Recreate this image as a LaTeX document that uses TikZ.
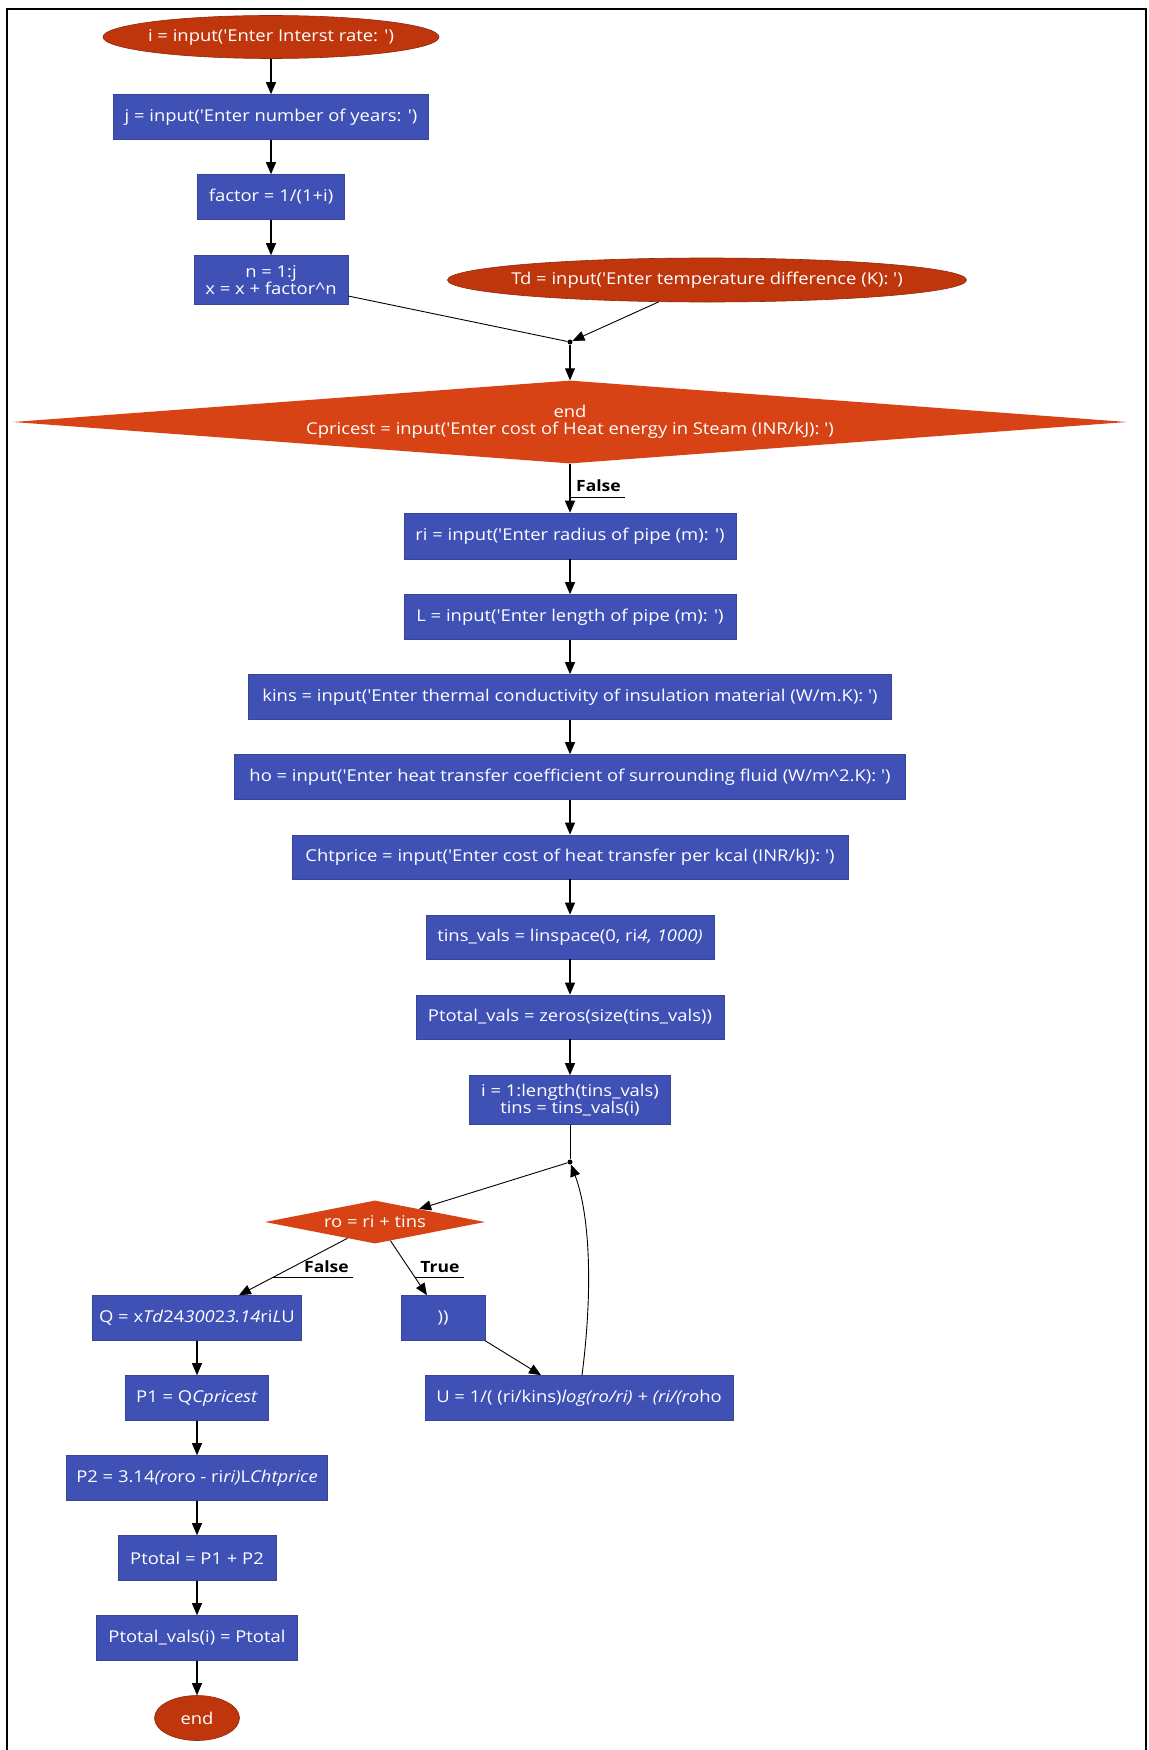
\documentclass[tikz,border=0pt]{standalone}
\usepackage{fontspec}
\setmainfont[FakeStretch=1.13,Ligatures=TeXOff]{Open Sans}
\usetikzlibrary{shapes.geometric,arrows.meta,calc}
\definecolor{boxblue}{HTML}{3F51B5}
\definecolor{ovalred}{HTML}{BF360C}
\definecolor{diared}{HTML}{D84315}
\newcommand{\ctr}[1]{\makebox[0pt]{#1}}
\tikzset{
  base/.style={text=white, font=\fontsize{16.3}{17.5}\selectfont, inner sep=0pt, align=center},
  procbox/.style={base, rectangle, fill=boxblue, draw=boxblue!85!black, line width=0.6pt},
  terminal/.style={base, ellipse, fill=ovalred, draw=ovalred!75!black, line width=0.6pt},
  decision/.style={base, diamond, fill=diared, draw=none},
  flow/.style={-{Triangle[length=12pt,width=10pt]}, line width=1.1pt},
  thinflow/.style={-{Triangle[length=12pt,width=10pt]}, line width=0.9pt},
  plainline/.style={line width=0.9pt},
  junction/.style={circle, fill=black, inner sep=0pt, minimum size=5pt},
  edgelabel/.style={font=\bfseries\fontsize{15.5}{17}\selectfont, text=black, inner sep=0pt},
}
\begin{document}
\begin{tikzpicture}[x=1pt,y=-1pt]
\useasboundingbox (0,0) rectangle (1148,1750);
\fill[white] (0,0) rectangle (1148,1750);
\draw[line width=2pt] (7,9) rectangle (1146,1760);

% upper left column
\node[terminal, minimum width=336pt, minimum height=43pt] (ei) at (271,37) {\ctr{i = input('Enter Interst rate: ')}};
\node[procbox, minimum width=315pt, minimum height=45pt] (j) at (271,117) {j = input('Enter number of years: ')};
\node[procbox, minimum width=147pt, minimum height=45pt] (fac) at (271,197) {factor = 1/(1+i)};
\node[procbox, minimum width=154pt, minimum height=49pt] (n) at (271,280) {n = 1:j\\x = x + factor\textasciicircum n};
\node[terminal, minimum width=519pt, minimum height=44pt] (td) at (707,280) {\ctr{Td = input('Enter temperature difference (K): ')}};
\node[junction] (d1) at (570,342) {};
\node[decision, minimum width=1114pt, minimum height=83pt] (cp) at (570,422) {\ctr{end}\\\ctr{Cpricest = input('Enter cost of Heat energy in Steam (INR/kJ): ')}};

% main column
\node[procbox, minimum width=332pt, minimum height=46pt] (ri) at (570,536) {ri = input('Enter radius of pipe (m): ')};
\node[procbox, minimum width=332pt, minimum height=45pt] (L) at (570,617) {L = input('Enter length of pipe (m): ')};
\node[procbox, minimum width=643pt, minimum height=45pt] (kins) at (570,697) {kins = input('Enter thermal conductivity of insulation material (W/m.K): ')};
\node[procbox, minimum width=671pt, minimum height=45pt] (ho) at (570,777) {ho = input('Enter heat transfer coefficient of surrounding fluid (W/m\textasciicircum 2.K): ')};
\node[procbox, minimum width=556pt, minimum height=44pt] (cht) at (570,857) {Chtprice = input('Enter cost of heat transfer per kcal (INR/kJ): ')};
\node[procbox, minimum width=288pt, minimum height=44pt] (tv) at (570,937) {tins\_vals = linspace(0, ri\textit{4, 1000)}};
\node[procbox, minimum width=308pt, minimum height=44pt] (ptv) at (570,1017) {Ptotal\_vals = zeros(size(tins\_vals))};
\node[procbox, minimum width=201pt, minimum height=49pt] (il) at (570,1100) {i = 1:length(tins\_vals)\\tins = tins\_vals(i)};
\node[junction] (d2) at (570,1162) {};
\node[decision, minimum width=220pt, minimum height=43pt] (ro) at (375,1222) {\ctr{ro = ri + tins}};

% lower part
\node[procbox, minimum width=209pt, minimum height=45pt] (q) at (197,1318) {Q = x\textit{Td}24\textit{300}2\textit{3.14}ri\textit{L}U};
\node[procbox, minimum width=84pt, minimum height=45pt] (pp) at (443,1318) {))};
\node[procbox, minimum width=308pt, minimum height=45pt] (u) at (579,1398) {U = 1/( (ri/kins)\textit{log(ro/ri) + (ri/(ro}ho};
\node[procbox, minimum width=143pt, minimum height=45pt] (p1) at (197,1398) {P1 = Q\textit{Cpricest}};
\node[procbox, minimum width=261pt, minimum height=45pt] (p2) at (197,1478) {P2 = 3.14\textit{(ro}ro - ri\textit{ri)}L\textit{Chtprice}};
\node[procbox, minimum width=158pt, minimum height=45pt] (pt) at (197,1558) {Ptotal = P1 + P2};
\node[procbox, minimum width=201pt, minimum height=45pt] (pvi) at (197,1638) {Ptotal\_vals(i) = Ptotal};
\node[terminal, minimum width=85pt, minimum height=45pt] (fin) at (197,1718) {\ctr{end}};

% labels
\node[edgelabel] (lf1) at (598.5,486) {False};
\coordinate (lf1a) at (570,497); \coordinate (lf1b) at (625,497);
\draw[plainline] (lf1a) -- (lf1b);
\node[edgelabel] (lf2) at (326.5,1267) {False};
\coordinate (lf2a) at (272,1277); \coordinate (lf2b) at (353,1277);
\draw[plainline] (lf2a) -- (lf2b);
\node[edgelabel] (lt) at (440,1267) {True};
\coordinate (lta) at (415,1277); \coordinate (ltb) at (464,1277);
\draw[plainline] (lta) -- (ltb);

% connectors
\draw[flow] (ei) -- (j);
\draw[flow] (j) -- (fac);
\draw[flow] (fac) -- (n);
\draw[plainline] (n) -- (d1);
\draw[thinflow] (td) -- (d1);
\draw[flow] (d1) -- (cp);
\draw[flow] (cp) -- (ri);
\draw[flow] (ri) -- (L);
\draw[flow] (L) -- (kins);
\draw[flow] (kins) -- (ho);
\draw[flow] (ho) -- (cht);
\draw[flow] (cht) -- (tv);
\draw[flow] (tv) -- (ptv);
\draw[flow] (ptv) -- (il);
\draw[plainline] (il) -- (d2);
\draw[thinflow] (d2) -- ($(ro.north)!0.4!(ro.east)$);
\draw[thinflow] ($(ro.south)!0.25!(ro.west)$) -- ($(q.north)!0.4!(q.north east)$);
\draw[thinflow] ($(ro.south)!0.14!(ro.east)$) -- ($(pp.north)!0.38!(pp.north west)$);
\draw[thinflow] (pp.south east) -- ($(u.north west)!0.377!(u.north east)$);
\draw[thinflow] ([xshift=3pt]u.north) .. controls (593,1290) and (590,1215) .. (d2);
\draw[flow] (q) -- (p1);
\draw[flow] (p1) -- (p2);
\draw[flow] (p2) -- (pt);
\draw[flow] (pt) -- (pvi);
\draw[flow] (pvi) -- (fin);
\end{tikzpicture}
\end{document}
